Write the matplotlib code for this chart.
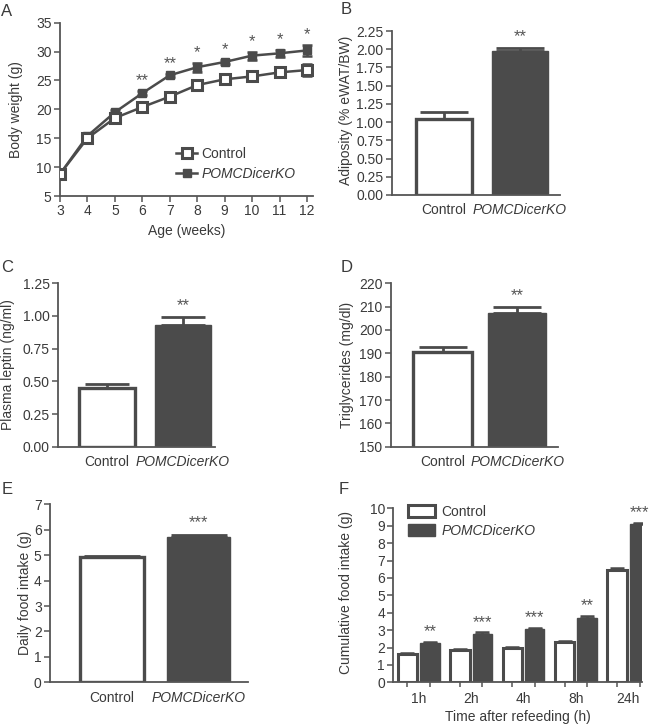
import matplotlib
matplotlib.use("Agg")
import matplotlib.pyplot as plt
from matplotlib.patches import Patch
from matplotlib.lines import Line2D
import numpy as np

plt.rcParams['font.family'] = ['Liberation Sans', 'DejaVu Sans']

# ---------------- data ----------------
weeks = [3, 4, 5, 6, 7, 8, 9, 10, 11, 12]
bw_ctrl = [8.8, 15.0, 18.5, 20.4, 22.2, 24.2, 25.2, 25.7, 26.4, 26.8]
bw_ctrl_err = [0.3, 0.4, 0.5, 0.4, 0.5, 0.5, 0.5, 0.6, 0.7, 1.0]
bw_ko = [8.8, 15.4, 19.5, 22.8, 25.9, 27.3, 28.2, 29.3, 29.7, 30.2]
bw_ko_err = [0.3, 0.4, 0.4, 0.3, 0.3, 0.8, 0.4, 0.7, 0.6, 0.9]
bw_sig = ['', '', '', '**', '**', '*', '*', '*', '*', '*']

groups = ['Control', 'POMCDicerKO']
adiposity = [1.04, 1.97]
adiposity_err = [0.10, 0.05]
leptin = [0.45, 0.93]
leptin_err = [0.03, 0.06]
trig = [190.5, 207.2]
trig_err = [2.0, 2.5]
daily_food = [4.92, 5.72]
daily_food_err = [0.05, 0.07]

times = ['1h', '2h', '4h', '8h', '24h']
cum_ctrl = [1.60, 1.85, 1.95, 2.30, 6.45]
cum_ctrl_err = [0.07, 0.06, 0.06, 0.07, 0.10]
cum_ko = [2.27, 2.80, 3.07, 3.72, 9.08]
cum_ko_err = [0.07, 0.07, 0.07, 0.08, 0.08]
cum_sig = ['**', '***', '***', '**', '***']

# ---------------- style ----------------
W, H = 661, 727
DARK = '#4b4b4b'
TXT = '#3a3a3a'
SPINE = '#555555'
TICK_FS = 10
LAB_FS = 10
STAR_FS = 12

fig = plt.figure(figsize=(W / 100, H / 100), dpi=100)


def rect(l, t, r, b):
    return [l / W, 1 - b / H, (r - l) / W, (b - t) / H]


def style(ax):
    for s in ['top', 'right']:
        ax.spines[s].set_visible(False)
    for s in ['left', 'bottom']:
        ax.spines[s].set_color(SPINE)
        ax.spines[s].set_linewidth(1.3)
    ax.tick_params(axis='both', colors=SPINE, labelcolor=TXT, labelsize=TICK_FS,
                   length=4, width=1.1, direction='out', pad=2)


def ylab(x, y, s):
    fig.text(x / W, 1 - y / H, s, rotation=90, ha='center', va='center',
             fontsize=LAB_FS, color=TXT)


def letter(x, y, s):
    fig.text(x / W, 1 - y / H, s, ha='center', va='center', fontsize=12,
             color=TXT)


def bar_panel(ax, vals, errs, sig, width, cap, ylim, yticks, fmt, xlim):
    x = np.arange(len(vals))
    ax.bar(x[0], vals[0], width=width, color='white', edgecolor=DARK,
           linewidth=2.4, zorder=2)
    ax.bar(x[1], vals[1], width=width, color=DARK, edgecolor=DARK,
           linewidth=1.0, zorder=2)
    for xi, v, e in zip(x, vals, errs):
        ax.errorbar(xi, v, yerr=[[0], [e]], fmt='none', ecolor=DARK,
                    elinewidth=2.0, capsize=cap, capthick=2.0, zorder=3)
    span = ylim[1] - ylim[0]
    ax.text(x[1], vals[1] + errs[1] + span * 0.025, sig, ha='center',
            va='bottom', fontsize=STAR_FS, color='#555555')
    ax.set_xlim(*xlim)
    ax.set_ylim(*ylim)
    ax.set_yticks(yticks)
    ax.set_yticklabels([fmt.format(t) for t in yticks])
    ax.set_xticks(x)
    ax.set_xticklabels(groups)
    ax.get_xticklabels()[1].set_style('italic')
    style(ax)
    ax.tick_params(axis='x', length=0, pad=6)
    ax.spines['left'].set_bounds(ylim[0], ylim[1])


# ---------------- Panel A ----------------
axA = fig.add_axes(rect(60, 22.7, 313, 196))
axA.plot(weeks, bw_ko, color=DARK, lw=1.8, zorder=2)
axA.plot(weeks, bw_ctrl, color=DARK, lw=1.8, zorder=2)
axA.errorbar(weeks, bw_ko, yerr=bw_ko_err, fmt='none', ecolor=DARK,
             elinewidth=1.8, capsize=3.5, capthick=1.8, zorder=3)
axA.errorbar(weeks, bw_ctrl, yerr=bw_ctrl_err, fmt='none', ecolor=DARK,
             elinewidth=1.8, capsize=3.5, capthick=1.8, zorder=3)
axA.plot(weeks, bw_ko, ls='none', marker='s', ms=6, color=DARK, zorder=4)
axA.plot(weeks, bw_ctrl, ls='none', marker='s', ms=6.5, mfc='white',
         mec=DARK, mew=2.2, zorder=4)
for w, v, e, s in zip(weeks, bw_ko, bw_ko_err, bw_sig):
    if s:
        axA.text(w, v + e + 0.5, s, ha='center', va='bottom', fontsize=STAR_FS,
                 color='#555555')
axA.set_xlim(3, 12.22)
axA.set_ylim(5, 35)
axA.set_xticks(weeks)
axA.set_yticks(range(5, 36, 5))
style(axA)
axA.set_xlabel('Age (weeks)', fontsize=LAB_FS, color=TXT, labelpad=4)
h1 = Line2D([], [], color=DARK, lw=1.8, marker='s', ms=6.5, mfc='white',
            mec=DARK, mew=2.2)
h2 = Line2D([], [], color=DARK, lw=1.8, marker='s', ms=6)
legA = axA.legend([h1, h2], ['Control', 'POMCDicerKO'], loc='upper left',
                  bbox_to_anchor=(0.46, 0.285), frameon=False, fontsize=10,
                  handlelength=1.5, handletextpad=0.3, labelspacing=0.45,
                  borderaxespad=0, borderpad=0)
for t in legA.get_texts():
    t.set_color(TXT)
legA.get_texts()[1].set_style('italic')
ylab(16, 110, 'Body weight (g)')
letter(7, 12, 'A')

# ---------------- Panel B ----------------
axB = fig.add_axes(rect(391.7, 31, 560, 195))
bar_panel(axB, adiposity, adiposity_err, '**', 0.74, 17,
          (0, 2.25), np.arange(0, 2.26, 0.25), '{:.2f}', (-0.69, 1.53))
ylab(346, 110, 'Adiposity (% eWAT/BW)')
letter(346, 9, 'B')

# ---------------- Panel C ----------------
axC = fig.add_axes(rect(58.3, 283.3, 215, 446.7))
bar_panel(axC, leptin, leptin_err, '**', 0.74, 16,
          (0, 1.25), np.arange(0, 1.26, 0.25), '{:.2f}', (-0.64, 1.42))
ylab(8, 365, 'Plasma leptin (ng/ml)')
letter(7, 267, 'C')

# ---------------- Panel D ----------------
axD = fig.add_axes(rect(390.7, 283.3, 558, 446.7))
bar_panel(axD, trig, trig_err, '**', 0.79, 17,
          (150, 220), np.arange(150, 221, 10), '{:.0f}', (-0.70, 1.55))
ylab(347, 365, 'Triglycerides (mg/dl)')
letter(347, 267, 'D')

# ---------------- Panel E ----------------
axE = fig.add_axes(rect(50, 504.3, 248, 682.3))
bar_panel(axE, daily_food, daily_food_err, '***', 0.73, 20,
          (0, 7), np.arange(0, 8, 1), '{:.0f}', (-0.715, 1.57))
ylab(25, 593, 'Daily food intake (g)')
letter(7, 490, 'E')

# ---------------- Panel F ----------------
axF = fig.add_axes(rect(393.3, 508.3, 641.7, 682.3))
xg = np.arange(len(times))
off = 0.215
bw = 0.37
axF.bar(xg - off, cum_ctrl, width=bw, color='white', edgecolor=DARK,
        linewidth=2.2, zorder=2)
axF.bar(xg + off, cum_ko, width=bw, color=DARK, edgecolor=DARK,
        linewidth=1.0, zorder=2)
axF.errorbar(xg - off, cum_ctrl, yerr=[np.zeros(len(times)), cum_ctrl_err],
             fmt='none', ecolor=DARK, elinewidth=1.8, capsize=5, capthick=1.8,
             zorder=3)
axF.errorbar(xg + off, cum_ko, yerr=[np.zeros(len(times)), cum_ko_err],
             fmt='none', ecolor=DARK, elinewidth=1.8, capsize=5, capthick=1.8,
             zorder=3)
for xi, v, e, s in zip(xg + off, cum_ko, cum_ko_err, cum_sig):
    axF.text(xi, v + e + 0.15, s, ha='center', va='bottom', fontsize=STAR_FS,
             color='#555555')
axF.set_xlim(-0.486, 4.256)
axF.set_ylim(0, 10)
axF.set_yticks(range(0, 11))
style(axF)
axF.set_xticks(np.concatenate([xg - off, xg + off]), minor=True)
axF.set_xticks(xg)
axF.set_xticklabels(times)
axF.tick_params(axis='x', which='major', length=0, pad=7)
axF.tick_params(axis='x', which='minor', length=3.5, width=1.1, colors=SPINE)
axF.set_xlabel('Time after refeeding (h)', fontsize=LAB_FS, color=TXT,
               labelpad=3)
legF = axF.legend([Patch(facecolor='white', edgecolor=DARK, linewidth=2.2),
                   Patch(facecolor=DARK, edgecolor=DARK)],
                  ['Control', 'POMCDicerKO'], loc='upper left',
                  bbox_to_anchor=(0.06, 1.02), frameon=False, fontsize=10,
                  handlelength=1.9, handleheight=0.9, handletextpad=0.5,
                  labelspacing=0.35, borderaxespad=0, borderpad=0)
for t in legF.get_texts():
    t.set_color(TXT)
legF.get_texts()[1].set_style('italic')
ylab(346, 593, 'Cumulative food intake (g)')
letter(344, 490, 'F')

fig.savefig('out.png', dpi=100)
